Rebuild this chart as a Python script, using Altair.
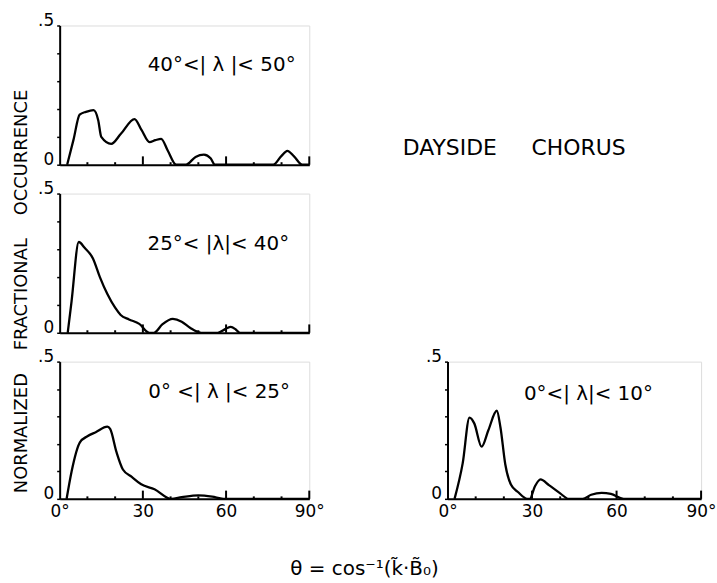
import altair as alt
import pandas as pd

FONT = "DejaVu Sans"

# Panel 1: 40° < |λ| < 50°
theta_40_50 = [2.7, 5.0, 7.2, 9.5, 12.2, 13.9, 15.0, 18.6, 22.0, 27.0, 29.5, 32.4, 34.5, 36.6, 39.0, 42.0,
               45.5, 49.0, 52.0, 54.5, 56.0, 77.0, 80.0, 82.1, 84.5, 87.5, 90.0]
occ_40_50 = [0.0, 0.09, 0.18, 0.19, 0.196, 0.16, 0.10, 0.075, 0.11, 0.164, 0.125, 0.081, 0.088, 0.093, 0.05, 0.0,
             0.0, 0.028, 0.036, 0.022, 0.0, 0.0, 0.032, 0.05, 0.03, 0.0, 0.0]

# Panel 2: 25° < |λ| < 40°
theta_25_40 = [2.9, 4.3, 6.9, 9.0, 12.0, 14.5, 17.2, 20.0, 22.0, 25.0, 28.7, 32.3, 34.0, 37.0, 40.8, 44.0,
               47.0, 51.0, 57.0, 60.0, 61.7, 63.5, 65.0, 90.0]
occ_25_40 = [0.0, 0.114, 0.326, 0.305, 0.267, 0.2, 0.139, 0.09, 0.064, 0.048, 0.032, 0.0, 0.0, 0.03, 0.05, 0.04,
             0.018, 0.0, 0.0, 0.015, 0.021, 0.012, 0.0, 0.0]

# Panel 3: 0° < |λ| < 25°
theta_0_25 = [2.5, 4.3, 7.3, 10.0, 13.0, 17.2, 18.2, 20.5, 22.8, 26.0, 29.4, 34.2, 40.2, 44.0, 50.0, 55.0, 59.0, 90.0]
occ_0_25 = [0.0, 0.1, 0.206, 0.228, 0.243, 0.263, 0.255, 0.17, 0.107, 0.08, 0.053, 0.035, 0.0, 0.006, 0.013, 0.008, 0.0, 0.0]

# Panel 4: 0° < |λ| < 10°
theta_0_10 = [2.5, 5.4, 7.8, 9.5, 12.1, 14.5, 17.5, 18.8, 20.5, 22.5, 25.0, 28.3, 29.2, 31.0, 33.0, 36.0, 40.0, 43.0,
              48.0, 51.0, 54.7, 58.0, 62.5, 90.0]
occ_0_10 = [0.0, 0.13, 0.296, 0.275, 0.19, 0.25, 0.321, 0.26, 0.126, 0.052, 0.025, 0.0, 0.0, 0.045, 0.071, 0.05, 0.02, 0.0,
            0.0, 0.015, 0.022, 0.018, 0.0, 0.0]

panel_labels = ["40°<| λ |< 50°", "25°< |λ|< 40°", "0° <| λ |< 25°", "0°<| λ|< 10°"]
major_ticks = [30, 60, 90]
minor_ticks = [10, 20, 40, 50, 70, 80]
major_tick_len = 0.03
minor_tick_len = 0.009
x_tick_values = [0, 30, 60, 90]
y_tick_values = [0, 0.1, 0.2, 0.3, 0.4, 0.5]


def tick_frame():
    rows = []
    for t in major_ticks:
        rows += [{"theta": t, "occ": 0.0, "seg": f"M{t}"}, {"theta": t, "occ": major_tick_len, "seg": f"M{t}"}]
    for t in minor_ticks:
        rows += [{"theta": t, "occ": 0.0, "seg": f"m{t}"}, {"theta": t, "occ": minor_tick_len, "seg": f"m{t}"}]
    return pd.DataFrame(rows)


def panel(theta, occ, label, label_x, label_py, width, height, bottom, extra=None, ytitle=False):
    df = pd.DataFrame({"theta": theta, "occ": occ})
    xscale = alt.Scale(domain=[0, 90], nice=False, zero=False)
    yscale = alt.Scale(domain=[0, 0.5], nice=False)
    if bottom:
        xaxis = alt.Axis(values=x_tick_values, ticks=False, grid=False, title=None,
                         labelExpr="datum.value == 0 ? '0°' : (datum.value == 90 ? '90°' : datum.label)",
                         domainColor="black", domainWidth=2, labelFont=FONT, labelFontSize=17,
                         labelColor="black", labelPadding=5, labelFlush=False, labelOverlap=False)
    else:
        xaxis = alt.Axis(labels=False, ticks=False, grid=False, title=None,
                         domainColor="black", domainWidth=2)
    yargs = dict(values=y_tick_values, grid=False,
                 labelExpr="datum.value < 0.05 ? '0' : (datum.value > 0.45 ? '.5' : '')",
                 tickSize=3, tickColor="black", tickWidth=1.5,
                 domainColor="black", domainWidth=2, labelFont=FONT, labelFontSize=17,
                 labelColor="black", labelPadding=3, labelFlush=False, labelOverlap=False,
                 labelBaseline="alphabetic", labelBound=False)
    if ytitle:
        yargs.update(title="NORMALIZED\u00a0\u00a0\u00a0\u00a0FRACTIONAL\u00a0\u00a0\u00a0\u00a0OCCURRENCE",
                     titleFont=FONT, titleFontSize=18, titleFontWeight="normal", titleColor="black",
                     titleX=-38, titleY=98, titleBaseline="middle", titleAlign="center", titleAngle=270)
    else:
        yargs.update(title=None)
    yaxis = alt.Axis(**yargs)

    line = alt.Chart(df).mark_line(color="black", strokeWidth=2.3, interpolate="monotone").encode(
        x=alt.X("theta:Q", scale=xscale, axis=xaxis),
        y=alt.Y("occ:Q", scale=yscale, axis=yaxis),
    )
    ticks = alt.Chart(tick_frame()).mark_line(color="black", strokeWidth=2, interpolate="linear").encode(
        x=alt.X("theta:Q", scale=xscale, axis=xaxis),
        y=alt.Y("occ:Q", scale=yscale, axis=yaxis),
        detail="seg:N",
    )
    text = alt.Chart(pd.DataFrame({"t": [label]})).mark_text(
        font=FONT, fontSize=20, color="black", align="center", baseline="middle"
    ).encode(x=alt.datum(label_x, scale=xscale, axis=xaxis), y=alt.value(label_py), text="t:N")
    layers = [line, ticks, text]
    if extra is not None:
        layers.append(extra)
    return alt.layer(*layers).properties(width=width, height=height)


dayside = alt.Chart(pd.DataFrame({"t": ["DAYSIDE\u00a0\u00a0\u00a0\u00a0\u00a0CHORUS"]})).mark_text(
    font=FONT, fontSize=22, color="black", align="center", baseline="middle"
).encode(x=alt.value(457), y=alt.value(123), text="t:N")

p1 = panel(theta_40_50, occ_40_50, panel_labels[0], 58.4, 40, 251, 140, False, extra=dayside)
p2 = panel(theta_25_40, occ_25_40, panel_labels[1], 57.2, 51, 251, 140, False, ytitle=True)
p3 = panel(theta_0_25, occ_0_25, panel_labels[2], 57.5, 31, 251, 138, True)
p4 = panel(theta_0_10, occ_0_10, panel_labels[3], 50.0, 33, 255, 138, True)

row3 = alt.hconcat(p3, p4, spacing=139, bounds="flush")

chart = alt.vconcat(p1, p2, row3, spacing=29, bounds="flush").properties(
    title=alt.TitleParams(text="θ = cos⁻¹(k̃·B̃₀)", orient="bottom", anchor="middle",
                          font=FONT, fontSize=20, fontWeight="normal", color="black", offset=39),
    padding={"left": 12, "top": 9, "right": 0, "bottom": 5},
).configure_view(stroke=None).configure(background="white")

chart.save("out.html", embed_options={"renderer": "svg", "actions": False})
